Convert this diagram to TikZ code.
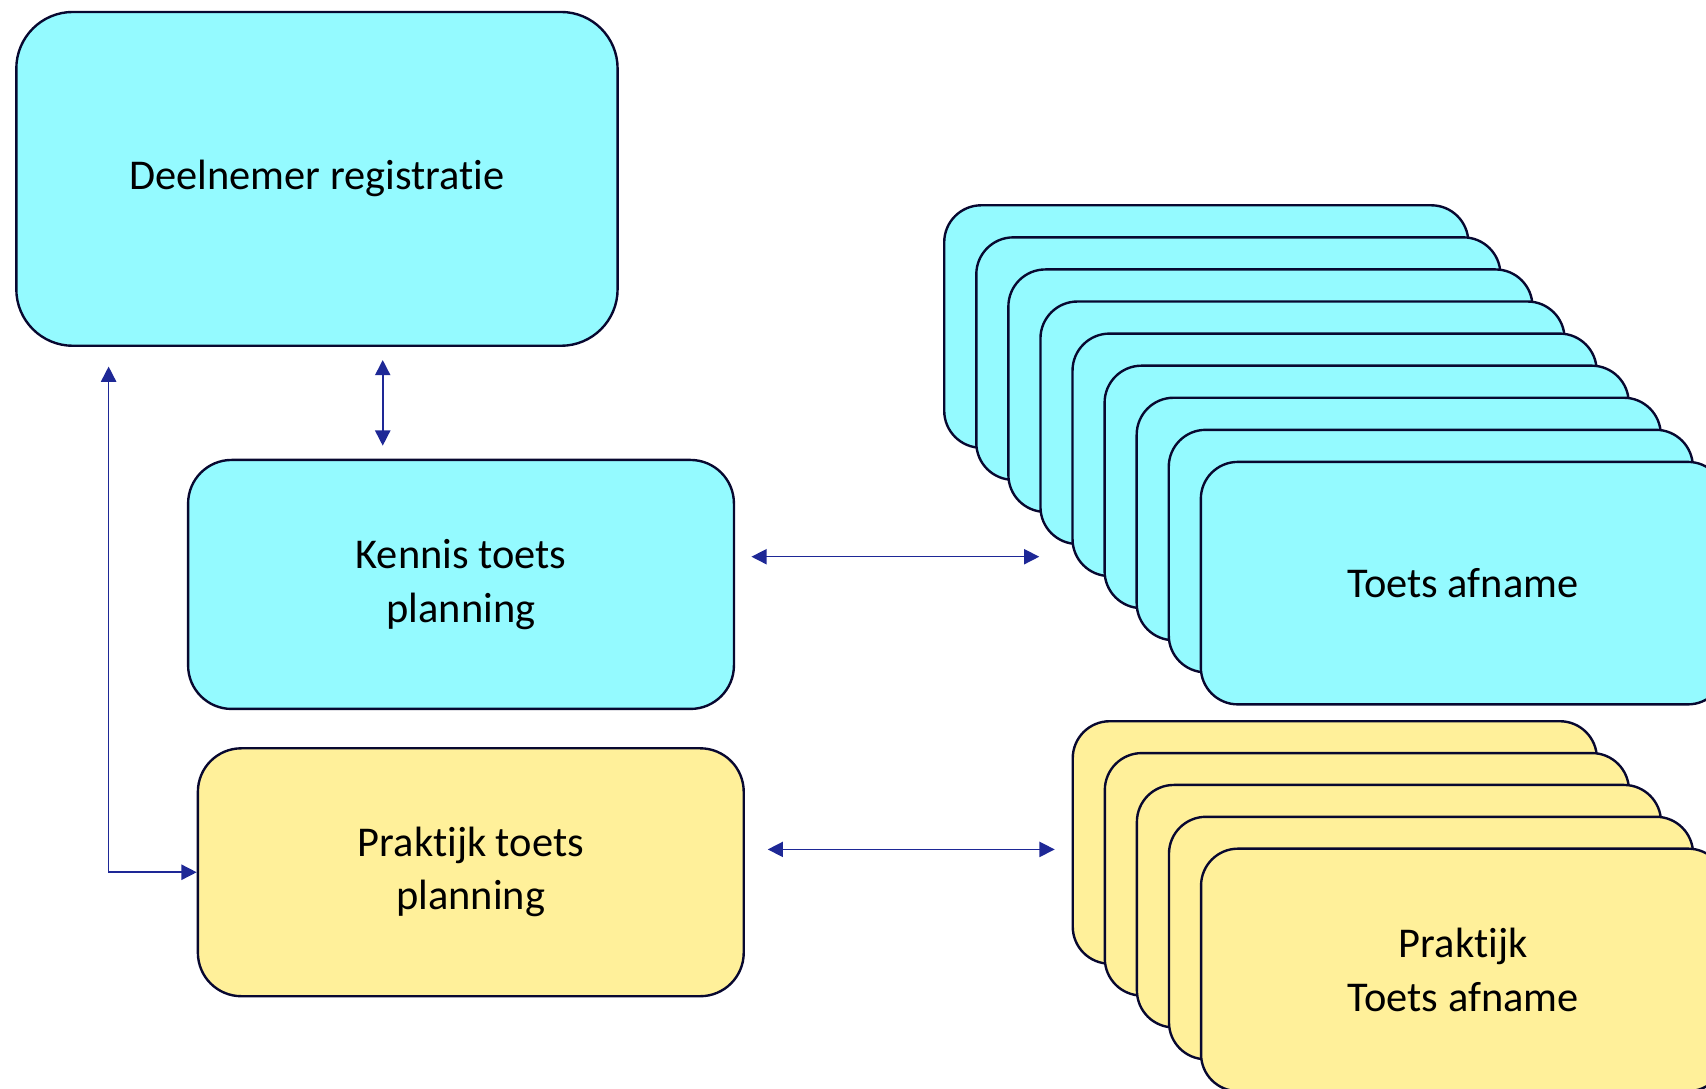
\documentclass[tikz,border=0pt]{standalone}
\usepackage{fontspec}
\setmainfont{Carlito}[Ligatures={NoCommon}]
\usetikzlibrary{positioning}
\usetikzlibrary{arrows.meta}
\definecolor{cyanfill}{RGB}{148,250,255}
\definecolor{yellowfill}{RGB}{255,240,154}
\definecolor{boxline}{RGB}{8,8,48}
\definecolor{arrowblue}{RGB}{30,40,150}

\begin{document}
\begin{tikzpicture}[x=0.5pt,y=-0.5pt,
	box/.style={rectangle,draw=boxline,line width=1.1pt,align=center,inner sep=0pt,font=\fontsize{19.5}{24.5}\selectfont},
	stackbox/.style={box,minimum width=241pt,minimum height=111.5pt,rounded corners=17pt,anchor=north west},
	link/.style={arrowblue,line width=0.7pt,{Triangle[length=7pt,width=7pt]}-{Triangle[length=7pt,width=7pt]}}
	]
	\useasboundingbox (0,0) rectangle (1569,1001.5);

	\node [box,fill=cyanfill,minimum width=276.5pt,minimum height=153.5pt,rounded corners=26pt] (deelnemer) at (291.5,164.5) {Deelnemer registratie};
	\node [box,fill=cyanfill,minimum width=251pt,minimum height=114.5pt,rounded corners=20pt] (kennis) at (424,537.5) {Kennis toets\\planning};
	\node [box,fill=yellowfill,minimum width=251pt,minimum height=114pt,rounded corners=20pt] (praktijk) [below=17pt of kennis,xshift=4.5pt] {Praktijk toets\\planning};

	% stack of toets afname
	\foreach \i in {1,...,8}
		\node [stackbox,fill=cyanfill] (toets\i) at ({867.3+29.5*(\i-1)},{187.7+29.5*(\i-1)}) {};
	\node [stackbox,fill=cyanfill] (toets9) at (1103.3,423.7) {Toets afname};

	% stack of praktijk afname
	\foreach \i in {1,...,4}
		\node [stackbox,fill=yellowfill] (praktijkafn\i) at ({985.5+29.5*(\i-1)},{662.2+29.3*(\i-1)}) {};
	\node [stackbox,fill=yellowfill] (praktijkafn5) at (1103.5,779.4) {Praktijk\\Toets afname};

	\coordinate (kennisout) at ([xshift=7.5pt,yshift=12.75pt]kennis.east);
	\coordinate (praktijkout) at ([xshift=10.5pt,yshift=10.5pt]praktijk.east);

	\draw [link] ([xshift=30.25pt,yshift=-6pt]deelnemer.south) to ([xshift=-36pt,yshift=6pt]kennis.north);
	\draw [link] ([xshift=43pt,yshift=-9pt]deelnemer.south west) |- (praktijk.west);
	\draw [link] (kennisout) to (kennisout -| toets4.west);
	\draw [link,shorten >=7.75pt] (praktijkout) to (praktijkout -| praktijkafn1.west);

\end{tikzpicture}
\end{document}
